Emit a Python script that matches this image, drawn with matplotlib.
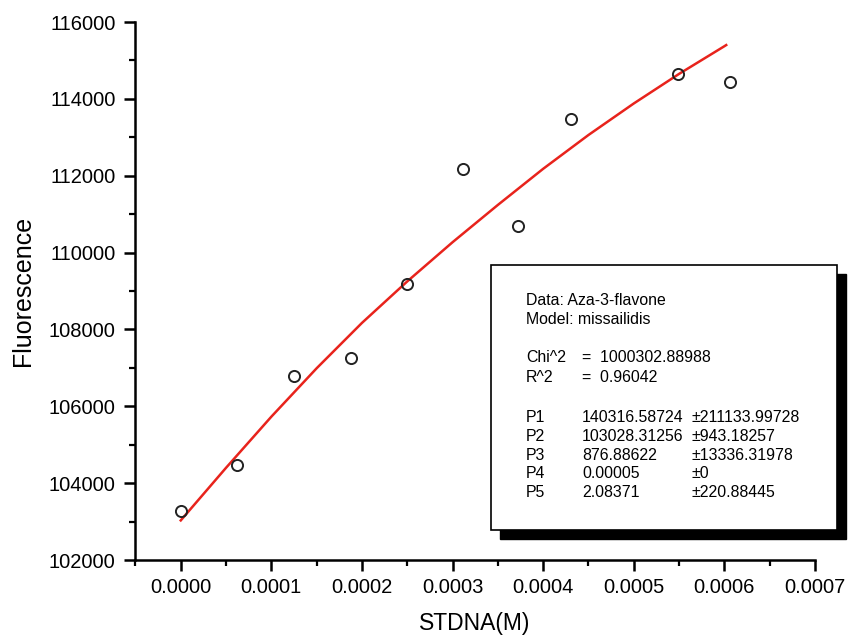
import matplotlib
matplotlib.use("Agg")
import matplotlib.pyplot as plt
from matplotlib.patches import Rectangle
from matplotlib.ticker import MultipleLocator

# ---------------- data ----------------
conc = [0.0, 0.0000625, 0.0001255, 0.000188, 0.00025, 0.000311, 0.000372, 0.000431, 0.000549, 0.000606]
fluor = [103280, 104480, 106790, 107260, 109180, 112170, 110680, 113480, 114640, 114450]

# fitted curve
fit_x = [0.0, 0.00005, 0.0001, 0.00015, 0.0002, 0.00025, 0.0003, 0.00035, 0.0004,
         0.00045, 0.0005, 0.00055, 0.0006, 0.000602]
fit_y = [103030, 104400, 105730, 106990, 108170, 109250, 110270, 111240, 112180,
         113060, 113880, 114650, 115370, 115400]

info_head = ["Data: Aza-3-flavone", "Model: missailidis"]
stat_names = ["Chi^2", "R^2"]
stat_vals = ["=  1000302.88988", "=  0.96042"]
par_names = ["P1", "P2", "P3", "P4", "P5"]
par_vals = ["140316.58724", "103028.31256", "876.88622", "0.00005", "2.08371"]
par_errs = ["\u00b1211133.99728", "\u00b1943.18257", "\u00b113336.31978", "\u00b10", "\u00b1220.88445"]

plt.rcParams['font.family'] = ['Liberation Sans', 'DejaVu Sans']

W, H = 850, 639
fig = plt.figure(figsize=(W / 100, H / 100), dpi=100)


def fx(px):
    return px / W


def fy(py):
    return 1 - py / H


# ---------------- axes ----------------
ax = fig.add_axes([fx(135), fy(560), (815 - 135) / W, (560 - 22) / H])
ax.plot(fit_x, fit_y, color='#e8231c', lw=1.8, zorder=2)
ax.plot(conc, fluor, 'o', mfc='none', mec='#222222', mew=1.4, ms=8, zorder=3)

ax.set_xlim(-0.0000505, 0.0007)
ax.set_ylim(102000, 116000)
ax.set_xticks([0.0, 0.0001, 0.0002, 0.0003, 0.0004, 0.0005, 0.0006, 0.0007])
ax.set_xticklabels(["0.0000", "0.0001", "0.0002", "0.0003", "0.0004", "0.0005", "0.0006", "0.0007"])
ax.xaxis.set_minor_locator(MultipleLocator(0.00005))
ax.yaxis.set_major_locator(MultipleLocator(2000))
ax.yaxis.set_minor_locator(MultipleLocator(1000))

for s in ['top', 'right']:
    ax.spines[s].set_visible(False)
for s in ['left', 'bottom']:
    ax.spines[s].set_linewidth(1.8)
ax.tick_params(which='major', length=8, width=1.8, labelsize=14.5, pad=6)
ax.tick_params(which='minor', length=4, width=1.6)
ax.tick_params(axis='x', which='major', pad=5)

ax.set_xlabel("STDNA(M)", fontsize=16.5, labelpad=11)
ax.set_ylabel("Fluorescence", fontsize=18, labelpad=10)

# ---------------- parameter box ----------------
bx0, by0, bx1, by1 = 491, 265, 837, 530
fig.add_artist(Rectangle((fx(bx0 + 9), fy(by1 + 9)), (bx1 - bx0) / W, (by1 - by0) / H,
                         transform=fig.transFigure, facecolor='black', edgecolor='black', zorder=5))
fig.add_artist(Rectangle((fx(bx0), fy(by1)), (bx1 - bx0) / W, (by1 - by0) / H,
                         transform=fig.transFigure, facecolor='white', edgecolor='black', lw=1.2, zorder=6))

fs = 11.4
for i, t in enumerate(info_head):
    fig.text(fx(526), fy(300.5 + 19 * i), t, fontsize=fs, va='center', zorder=7)
for i in range(len(stat_names)):
    yy = fy(358 + 19.3 * i)
    fig.text(fx(526), yy, stat_names[i], fontsize=fs, va='center', zorder=7)
    fig.text(fx(582), yy, stat_vals[i], fontsize=fs, va='center', zorder=7)
for i in range(len(par_names)):
    yy = fy(417.5 + 18.8 * i)
    fig.text(fx(526), yy, par_names[i], fontsize=fs, va='center', zorder=7)
    fig.text(fx(582), yy, par_vals[i], fontsize=fs, va='center', zorder=7)
    fig.text(fx(692), yy, par_errs[i], fontsize=fs, va='center', zorder=7)

plt.savefig("out.png", dpi=100)
